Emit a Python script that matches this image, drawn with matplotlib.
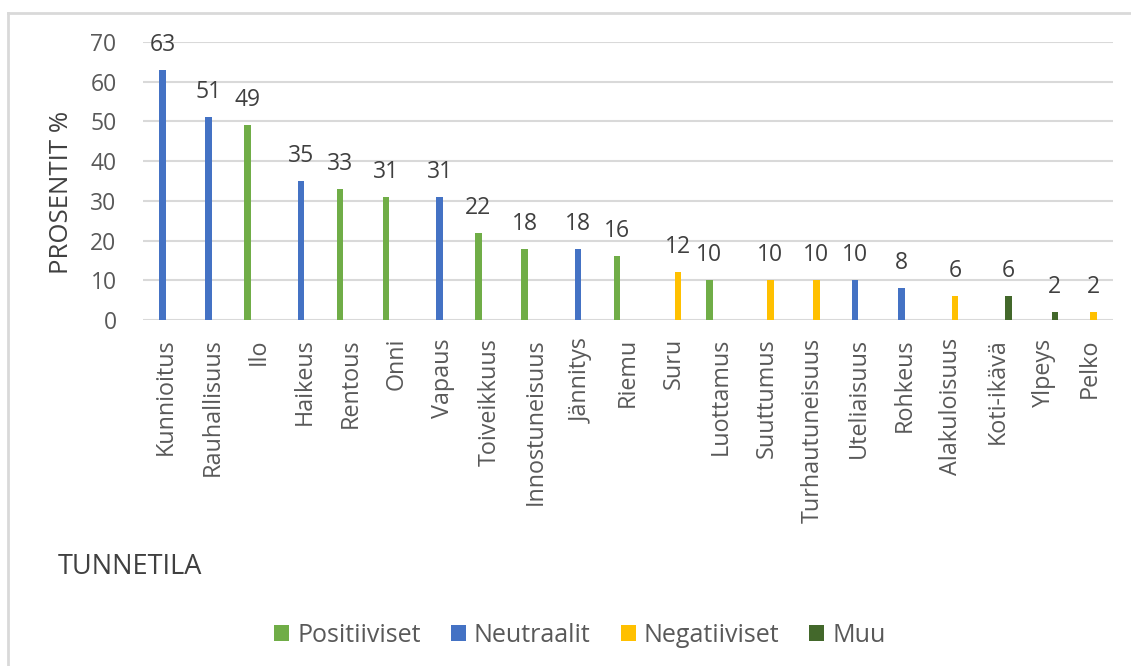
import numpy as np
import matplotlib
matplotlib.use("Agg")
import matplotlib.pyplot as plt
from matplotlib.patches import Patch
from matplotlib.lines import Line2D

# data
categories = ["Kunnioitus", "Rauhallisuus", "Ilo", "Haikeus", "Rentous", "Onni",
              "Vapaus", "Toiveikkuus", "Innostuneisuus", "Jännitys", "Riemu",
              "Suru", "Luottamus", "Suuttumus", "Turhautuneisuus", "Uteliaisuus",
              "Rohkeus", "Alakuloisuus", "Koti-ikävä", "Ylpeys", "Pelko"]
values = [63, 51, 49, 35, 33, 31, 31, 22, 18, 18, 16, 12, 10, 10, 10, 10, 8, 6, 6, 2, 2]
groups = ["Neutraalit", "Neutraalit", "Positiiviset", "Neutraalit", "Positiiviset",
          "Positiiviset", "Neutraalit", "Positiiviset", "Positiiviset", "Neutraalit",
          "Positiiviset", "Negatiiviset", "Positiiviset", "Negatiiviset",
          "Negatiiviset", "Neutraalit", "Neutraalit", "Negatiiviset", "Muu", "Muu",
          "Negatiiviset"]
series = ["Positiiviset", "Neutraalit", "Negatiiviset", "Muu"]
colors = {"Positiiviset": "#70AD47", "Neutraalit": "#4472C4",
          "Negatiiviset": "#FFC000", "Muu": "#43682B"}

plt.rcParams['font.family'] = ['Open Sans', 'DejaVu Sans']
txt = "#595959"

fig = plt.figure(figsize=(11.31, 6.66), dpi=100)
ax = fig.add_axes([143/1131, 1 - 320/666, (1113 - 143)/1131, (320 - 42)/666])

x = np.arange(len(categories))
step = 0.16  # slot width of one series inside a category
for i, (v, g) in enumerate(zip(values, groups)):
    k = series.index(g)
    xpos = x[i] + (k - 1.5) * step
    ax.bar(xpos, v, width=0.14, color=colors[g], zorder=3)
    ax.annotate(str(v), (xpos, v), xytext=(0, 19), textcoords='offset pixels',
                ha='center', va='baseline', fontsize=16.5, color="#404040", zorder=4)

ax.set_xlim(-0.5, len(categories) - 0.5)
ax.set_ylim(0, 70)
ax.set_yticks(range(0, 71, 10))
ax.set_xticks(x)
ax.set_xticklabels(categories, rotation=90, va='top', ha='center')
ax.tick_params(axis='x', length=0, pad=13, labelsize=16.8, labelcolor=txt)
ax.tick_params(axis='y', length=0, pad=19, labelsize=16.5, labelcolor=txt)
ax.yaxis.grid(True, color="#D9D9D9", linewidth=1.5, zorder=0)
for s in ax.spines.values():
    s.set_visible(False)

fig.text(62/1131, 1 - 192/666, "PROSENTIT %", rotation=90, ha='center', va='center',
         fontsize=18.5, color="#404040")
fig.text(58/1131, 1 - 567/666, "TUNNETILA", ha='left', va='center',
         fontsize=19.5, color="#404040")

handles = [Patch(facecolor=colors[s], edgecolor='none') for s in series]
fig.legend(handles, series, loc='center', bbox_to_anchor=(580/1131, 1 - 635/666),
           ncol=4, frameon=False, fontsize=18, labelcolor=txt,
           handlelength=0.6, handleheight=0.6, handletextpad=0.32, columnspacing=1.2)

# light border of the chart area
fig.add_artist(Line2D([8/1131, 8/1131], [0, 1 - 13/666], color="#D9D9D9", linewidth=2))
fig.add_artist(Line2D([8/1131, 1], [1 - 13/666, 1 - 13/666], color="#D9D9D9", linewidth=2))

fig.savefig("out.png", dpi=100)
